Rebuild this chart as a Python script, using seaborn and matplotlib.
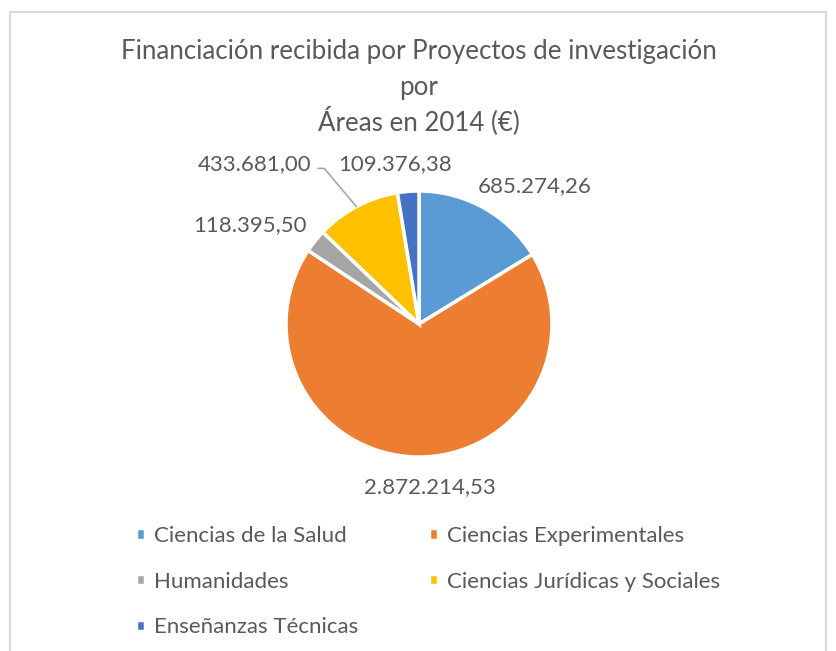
import matplotlib
matplotlib.use("Agg")
import matplotlib.pyplot as plt
import seaborn as sns
import numpy as np
from matplotlib.patches import Rectangle

# datos
areas = ["Ciencias de la Salud", "Ciencias Experimentales", "Humanidades",
         "Ciencias Jurídicas y Sociales", "Enseñanzas Técnicas"]
financiacion = [685274.26, 2872214.53, 118395.50, 433681.00, 109376.38]
etiquetas = ["685.274,26", "2.872.214,53", "118.395,50", "433.681,00", "109.376,38"]
colores = ["#5B9BD5", "#ED7D31", "#A5A5A5", "#FFC000", "#4472C4"]

# posicion de las etiquetas (en radios, relativas al centro)
pos_etiquetas = [(0.87, 1.04), (0.08, -1.23), (-1.27, 0.74), (-1.24, 1.20), (-0.18, 1.20)]

sns.set_style("white")
plt.rcParams["font.family"] = ["Lato", "DejaVu Sans"]
gris = "#595959"

W, H = 837, 651
fig = plt.figure(figsize=(W / 100, H / 100), dpi=100)

# borde del grafico
fig.patches.append(Rectangle((10 / W, -0.05), (826 - 10) / W, 1.05 - 12 / H,
                             transform=fig.transFigure, fill=False,
                             edgecolor="#D9D9D9", linewidth=1.5))

cx, cy, r = 419, 324, 133
ax = fig.add_axes([(cx - r) / W, 1 - (cy + r) / H, 2 * r / W, 2 * r / H])
wedges, _ = ax.pie(financiacion, colors=colores, startangle=90, counterclock=False,
                   wedgeprops=dict(edgecolor="white", linewidth=2.5))
ax.set_xlim(-1, 1)
ax.set_ylim(-1, 1)
ax.axis("off")

for txt, (px, py) in zip(etiquetas, pos_etiquetas):
    ax.text(px, py, txt, ha="center", va="center", fontsize=16, color=gris, clip_on=False)

# linea guia para Ciencias Jurídicas y Sociales
w = wedges[3]
ang = np.deg2rad((w.theta1 + w.theta2) / 2)
ax.annotate("", xy=(np.cos(ang) * 0.98, np.sin(ang) * 0.98), xytext=(-0.78, 1.17),
            arrowprops=dict(arrowstyle="-", color="#A6A6A6", lw=1.2,
                            connectionstyle="angle,angleA=0,angleB=-50,rad=0"),
            annotation_clip=False)

tam_titulo = 18.6
fig.text(0.5, 1 - 51 / H, "Financiación recibida por Proyectos de investigación",
         ha="center", va="center", fontsize=tam_titulo, color=gris)
fig.text(0.5, 1 - 87 / H, "por", ha="center", va="center", fontsize=tam_titulo, color=gris)
fig.text(0.5, 1 - 121 / H, "Áreas en 2014 (€)", ha="center", va="center", fontsize=tam_titulo, color=gris)

orden = [0, 2, 4, 1, 3]
leg = fig.legend([wedges[i] for i in orden], [areas[i] for i in orden], ncol=2,
                 loc="upper left", bbox_to_anchor=(116 / W, 1 - 506 / H),
                 frameon=False, fontsize=16, labelcolor=gris,
                 handlelength=0.4, handleheight=0.4, handletextpad=0.4,
                 labelspacing=1.15, columnspacing=3.2)

fig.savefig("out.png", dpi=100)
